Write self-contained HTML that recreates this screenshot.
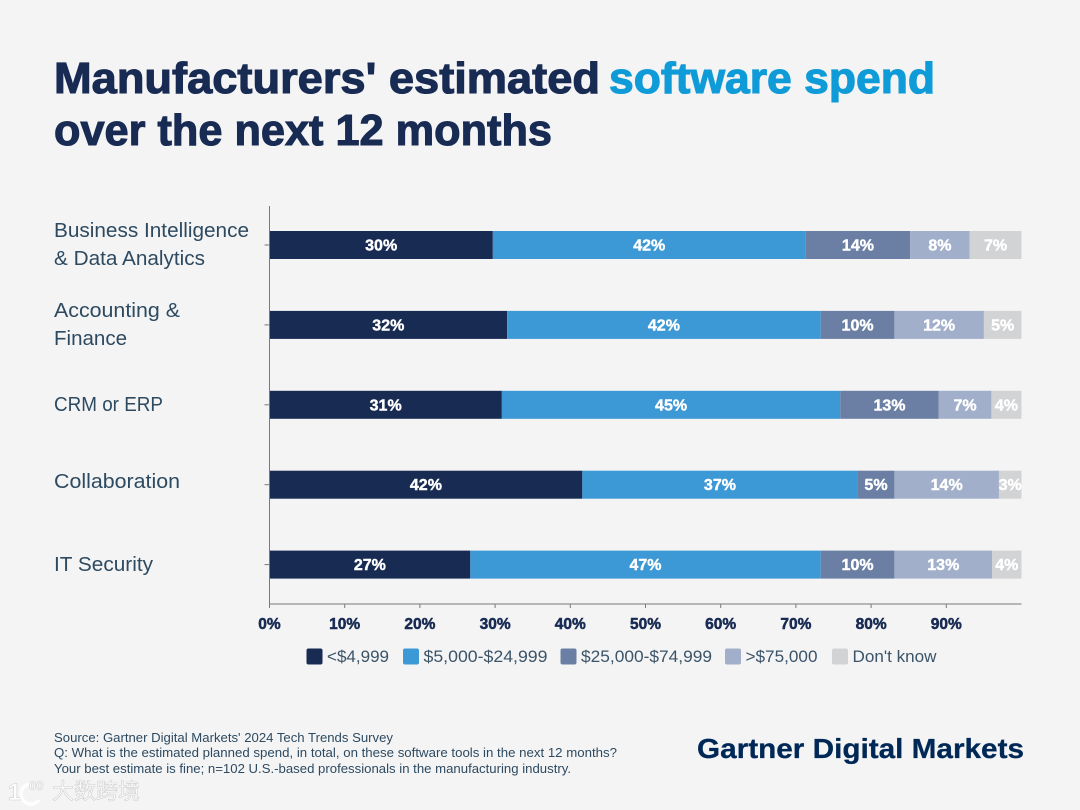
<!DOCTYPE html>
<html lang="en">
<head>
<meta charset="utf-8">
<title>Manufacturers' estimated software spend</title>
<style>
html,body{margin:0;padding:0;background:#f4f4f5;}
svg{display:block;font-family:"Liberation Sans","Noto Sans CJK SC",sans-serif;}
</style>
</head>
<body>
<svg id="chart" xmlns="http://www.w3.org/2000/svg" width="1080" height="810" viewBox="0 0 1080 810">
  <rect x="0" y="0" width="1080" height="810" fill="#f4f4f5"/>
  <g font-weight="700" font-size="44" stroke-width="1.1">
    <text x="54" y="93" fill="#182b53" stroke="#182b53" textLength="546" lengthAdjust="spacingAndGlyphs">Manufacturers' estimated</text>
    <text x="609" y="93" fill="#0f9bd7" stroke="#0f9bd7" textLength="326" lengthAdjust="spacingAndGlyphs">software spend</text>
    <text x="54" y="145" fill="#182b53" stroke="#182b53" textLength="498" lengthAdjust="spacingAndGlyphs">over the next 12 months</text>
  </g>
  <g id="categories" font-size="20" fill="#2d4a60"></g>
  <g id="bars"></g>
  <g id="axes"></g>
  <g id="legend" font-size="16.5" fill="#3b5468"></g>
  <g font-size="12.8" fill="#2d4a60">
    <text x="54" y="742" textLength="339" lengthAdjust="spacingAndGlyphs">Source: Gartner Digital Markets' 2024 Tech Trends Survey</text>
    <text x="54" y="757" textLength="563" lengthAdjust="spacingAndGlyphs">Q: What is the estimated planned spend, in total, on these software tools in the next 12 months?</text>
    <text x="54" y="773" textLength="517" lengthAdjust="spacingAndGlyphs">Your best estimate is fine; n=102 U.S.-based professionals in the manufacturing industry.</text>
  </g>
  <text x="697" y="758" font-size="28" font-weight="700" fill="#002856" stroke="#002856" stroke-width="0.3" textLength="327" lengthAdjust="spacingAndGlyphs">Gartner Digital Markets</text>
  <g fill="#ffffff" fill-opacity="0.9" stroke="#cfcfcf" stroke-width="0.6">
    <text x="8" y="800" font-size="24" font-weight="700">1</text>
    <path d="M32 784a10 10 0 1 0 7 16" fill="none" stroke="#ffffff" stroke-opacity="0.9" stroke-width="3.5"/>
    <text x="29" y="790" font-size="13" font-weight="700">00</text>
    <text x="52" y="799" font-size="22" font-family="'Liberation Sans','Noto Sans CJK SC',sans-serif">大数跨境</text>
  </g>
</svg>
<script>
const categories = ['Business Intelligence|& Data Analytics', 'Accounting &|Finance', 'CRM or ERP', 'Collaboration', 'IT Security'];
const seriesNames = ['<$4,999', '$5,000-$24,999', '$25,000-$74,999', '>$75,000', "Don't know"];
const under5k = [29.7, 31.6, 30.9, 41.6, 26.7];
const from5kTo25k = [41.6, 41.7, 45.0, 36.6, 46.6];
const from25kTo75k = [13.9, 9.8, 13.1, 4.9, 9.8];
const over75k = [7.9, 11.9, 7.0, 13.9, 13.0];
const dontKnow = [6.9, 5.0, 4.0, 3.0, 3.9];
const xTicks = [0, 10, 20, 30, 40, 50, 60, 70, 80, 90];

const NS = 'http://www.w3.org/2000/svg';
const seriesList = [under5k, from5kTo25k, from25kTo75k, over75k, dontKnow];
const colors = ['#182b53', '#3d98d6', '#6a7fa3', '#a1afca', '#d2d3d5'];
const X0 = 269.5, X100 = 1021.5, Y0 = 245, BAND = 79.9, BAR_H = 28;
const xScale = v => X0 + (X100 - X0) * v / 100;
const yScale = i => Y0 + BAND * i;

function mk(parent, tag, attrs, text) {
  const el = document.createElementNS(NS, tag);
  for (const k in attrs) el.setAttribute(k, attrs[k]);
  if (text !== undefined) el.textContent = text;
  parent.appendChild(el);
  return el;
}

const gCat = document.getElementById('categories');
const gBars = document.getElementById('bars');
const gAxes = document.getElementById('axes');
const gLegend = document.getElementById('legend');
const labelY = [[237, 265], [317, 345], [411], [488], [571]];
const labelLen = [[195, 151], [126, 73], [109], [126], [99]];

categories.forEach((c, i) => {
  c.split('|').forEach((line, j) => {
    const t = mk(gCat, 'text', {x: 54, y: labelY[i][j], textLength: labelLen[i][j], lengthAdjust: 'spacingAndGlyphs'}, line);
    
    
  });
});

categories.forEach((c, i) => {
  let cum = 0;
  const total = seriesList.reduce((s, a) => s + a[i], 0);
  seriesList.forEach((series, s) => {
    const v = series[i] * 100 / Math.max(total, 100);
    const x1 = xScale(cum), x2 = xScale(cum + v);
    const r = mk(gBars, 'rect', {x: x1, y: yScale(i) - BAR_H / 2, width: x2 - x1, height: BAR_H, fill: colors[s]});
    
    
    const t = mk(gBars, 'text', {x: (x1 + x2) / 2, y: yScale(i) + 5.5, 'text-anchor': 'middle', 'font-size': 16, 'font-weight': 700, fill: '#ffffff', stroke: '#ffffff', 'stroke-width': 0.4}, Math.round(series[i]) + '%');
    
    
    cum += v;
  });
});

const yAxis = mk(gAxes, 'line', {x1: X0, x2: X0, y1: 206, y2: 604, stroke: '#77797c', 'stroke-width': 1});


const xAxis = mk(gAxes, 'line', {x1: X0, x2: X100, y1: 604, y2: 604, stroke: '#77797c', 'stroke-width': 1});



categories.forEach((c, i) => {
  const tick = mk(gAxes, 'line', {x1: X0 - 5, x2: X0, y1: yScale(i), y2: yScale(i), stroke: '#77797c', 'stroke-width': 1});
  
  
});

xTicks.forEach(v => {
  const tick = mk(gAxes, 'line', {x1: xScale(v), x2: xScale(v), y1: 604, y2: 608, stroke: '#77797c', 'stroke-width': 1});
  
  
  const t = mk(gAxes, 'text', {x: xScale(v), y: 629, 'text-anchor': 'middle', 'font-size': 15.5, 'font-weight': 700, fill: '#182b53', stroke: '#182b53', 'stroke-width': 0.5}, v + '%');
  
  
});

const legendSwatchX = [306.5, 403, 560.5, 725, 832];
const legendTextLen = [62, 124, 131, 72, 84];
seriesNames.forEach((n, i) => {
  const sw = mk(gLegend, 'rect', {x: legendSwatchX[i], y: 648.5, width: 16, height: 16, rx: 2, fill: colors[i]});
  
  
  const t = mk(gLegend, 'text', {x: legendSwatchX[i] + 20.5, y: 662, textLength: legendTextLen[i], lengthAdjust: 'spacingAndGlyphs'}, n);
  
  
});
</script>
</body>
</html>
